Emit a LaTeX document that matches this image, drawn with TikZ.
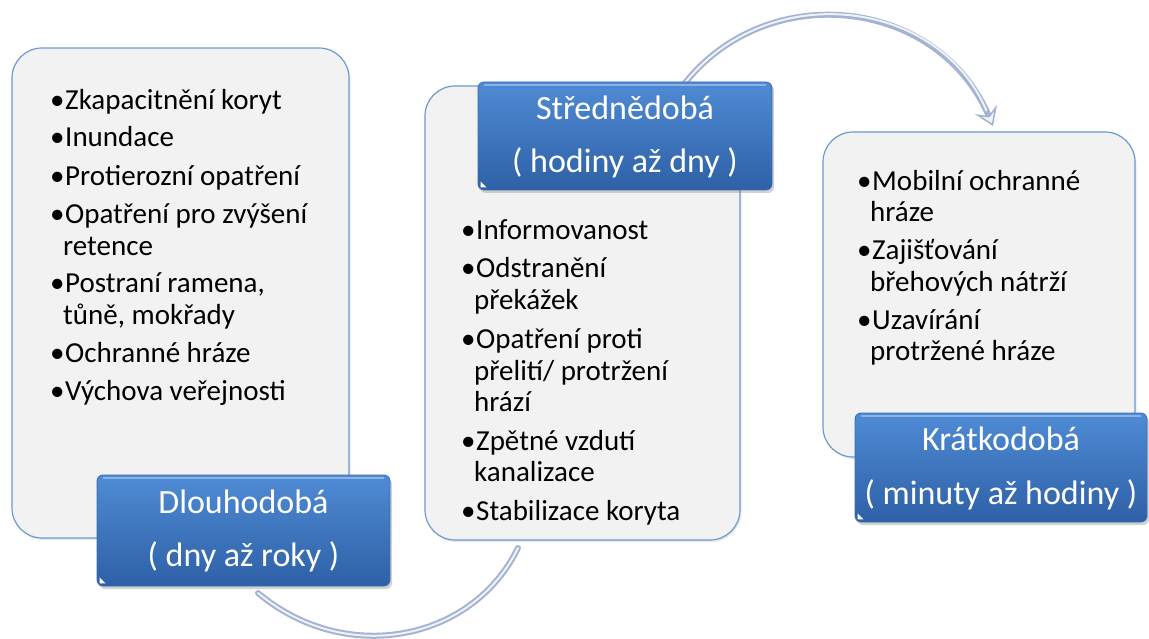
\documentclass[tikz,border=0pt]{standalone}
\usepackage{fontspec}
\setmainfont{Carlito}
\usetikzlibrary{arrows.meta,shadows,fit}
\definecolor{cardfill}{HTML}{F2F2F2}
\definecolor{cardline}{HTML}{6C9AD2}
\definecolor{labtop}{HTML}{4F8BD5}
\definecolor{labbot}{HTML}{2E60A6}
\definecolor{labline}{HTML}{3A6CB3}
\definecolor{arrowdark}{HTML}{A3B3D1}
\definecolor{arrowlight}{HTML}{EEF2F9}
\newcommand\mybullet{\makebox[17pt][l]{\hspace{2pt}•}}
\begin{document}
\begin{tikzpicture}[x=1pt,y=-1pt,
  card/.style={draw=cardline, line width=1.2pt, fill=cardfill, rounded corners=30pt, inner sep=0pt,
    drop shadow={opacity=0.18, shadow xshift=1.5pt, shadow yshift=-2pt}},
  labbox/.style={draw=labline, line width=0.8pt, top color=labtop, bottom color=labbot, rounded corners=6pt, inner sep=0pt,
    drop shadow={opacity=0.35, shadow xshift=2pt, shadow yshift=-3pt}},
  gloss/.style={draw=white, draw opacity=0.35, line width=2pt, line cap=round},
  body/.style={anchor=base west, inner sep=0pt, font=\fontsize{29}{32}\selectfont, text=black},
  labtext/.style={anchor=base, inner sep=0pt, font=\fontsize{34}{40}\selectfont, text=white},
  flow/.style={line width=6pt, draw=arrowdark, line cap=round},
  flowhi/.style={line width=2pt, draw=arrowlight, line cap=round},
  cornermark/.style={fill=white},
]
\fill[white] (0,0) rectangle (1149,639);
\useasboundingbox (0,0) rectangle (1149,639);

% connectors (behind the cards)
\coordinate (a1s) at (258,593);
\coordinate (a1e) at (518,548);
\coordinate (a2s) at (678.6,91.4);
\coordinate (a2e) at (993,126);
\draw[flow] (a1s) .. controls (345,666) and (472,642) .. (a1e);
\draw[flowhi] (a1s) .. controls (345,666) and (472,642) .. (a1e);
\draw[flow, -{Stealth[length=18pt,width=24pt,inset=7pt,fill=arrowlight,line width=1.5pt]}]
  (a2s) .. controls (760.5,-23.4) and (937.4,-4.6) .. (a2e);
\draw[flowhi, shorten >=17pt] (a2s) .. controls (760.5,-23.4) and (937.4,-4.6) .. (a2e);

% cards
\node[card, fit={(12,48) (349,538)}] (c1) {};
\node[card, fit={(425,86) (740,540)}] (c2) {};
\node[card, fit={(823,132) (1135,457)}] (c3) {};

% label boxes
\node[labbox, fit={(97,475) (390,586)}] (lab1) {};
\node[labbox, fit={(478,82) (772,190)}] (lab2) {};
\node[labbox, fit={(855,413) (1147,522)}] (lab3) {};
\foreach \b in {lab1,lab2,lab3}{
  \draw[gloss] ([shift={(7,3)}]\b.north west) -- ([shift={(-7,3)}]\b.north east);
  \fill[cornermark] ([shift={(3,-3)}]\b.south west) -- ++(0,-6) -- ++(6,6) -- cycle;
}

\node[labtext] (t1a) at (243.5,513) {Dlouhodobá};
\node[labtext] (t1b) at (243.5,566) {( dny až roky )};
\node[labtext] (t2a) at (625,120) {Střednědobá};
\node[labtext] (t2b) at (625,173) {( hodiny až dny )};
\node[labtext] (t3a) at (1001,450) {Krátkodobá};
\node[labtext] (t3b) at (1001,504) {( minuty až hodiny )};

% left list
\node[body] (l1) at (48,110) {\mybullet Zkapacitnění koryt};
\node[body] (l2) at (48,147) {\mybullet Inundace};
\node[body] (l3) at (48,186) {\mybullet Protierozní opatření};
\node[body] (l4) at (48,224) {\mybullet Opatření pro zvýšení};
\node[body] (l4b) at (63,255) {retence};
\node[body] (l5) at (48,293) {\mybullet Postraní ramena,};
\node[body] (l5b) at (63,324) {tůně, mokřady};
\node[body] (l6) at (48,362) {\mybullet Ochranné hráze};
\node[body] (l7) at (48,400) {\mybullet Výchova veřejnosti};

% middle list
\node[body] (m1) at (459,240) {\mybullet Informovanost};
\node[body] (m2) at (459,278) {\mybullet Odstranění};
\node[body] (m2b) at (474,309) {překážek};
\node[body] (m3) at (459,348) {\mybullet Opatření proti};
\node[body] (m3b) at (474,380) {přelití/ protržení};
\node[body] (m3c) at (474,411) {hrází};
\node[body] (m4) at (459,450) {\mybullet Zpětné vzdutí};
\node[body] (m4b) at (474,481) {kanalizace};
\node[body] (m5) at (459,520) {\mybullet Stabilizace koryta};

% right list
\node[body] (r1) at (855,191) {\mybullet Mobilní ochranné};
\node[body] (r1b) at (870,222) {hráze};
\node[body] (r2) at (855,260) {\mybullet Zajišťování};
\node[body] (r2b) at (870,291) {břehových nátrží};
\node[body] (r3) at (855,329) {\mybullet Uzavírání};
\node[body] (r3b) at (870,360) {protržené hráze};
\end{tikzpicture}
\end{document}
